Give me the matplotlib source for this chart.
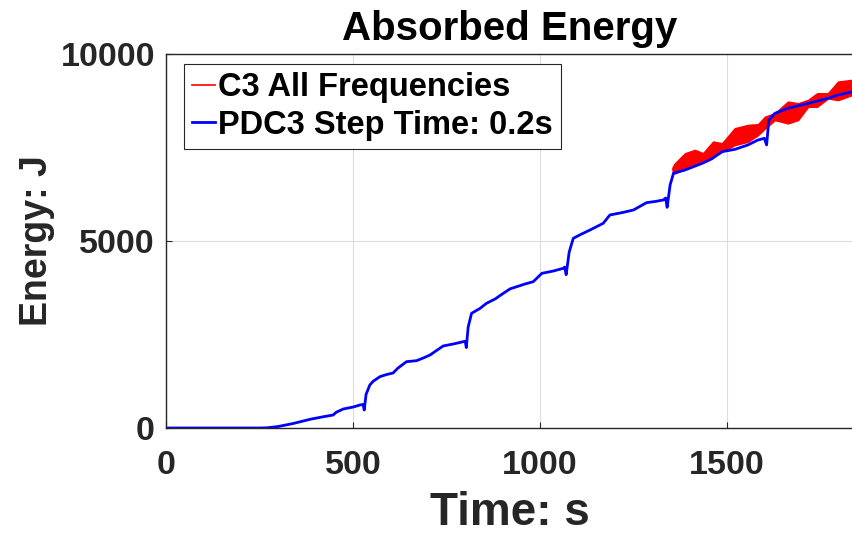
import numpy as np
import matplotlib
matplotlib.use("Agg")
import matplotlib.pyplot as plt

plt.rcParams['font.family'] = ['Liberation Sans', 'DejaVu Sans']
plt.rcParams['font.weight'] = 'bold'

# blue curve: PDC3 step time 0.2s
t_pdc = [0, 250, 270, 300, 340, 385, 420, 447, 455, 474, 500, 519, 527, 530, 535, 545,
         554, 572, 590, 607, 620, 643, 670, 690, 706, 741, 770, 795, 800, 803, 808, 817,
         840, 857, 880, 902, 920, 938, 960, 982, 1005, 1036, 1062, 1066, 1070, 1078,
         1089, 1110, 1134, 1169, 1187, 1220, 1250, 1285, 1310, 1330, 1336, 1340, 1348,
         1357, 1388, 1436, 1460, 1487, 1521, 1556, 1583, 1600, 1606, 1612, 1628, 1663,
         1717, 1770, 1797, 1837]
e_pdc = [0, 0, 5, 40, 120, 232, 300, 347, 420, 508, 560, 615, 630, 480, 900, 1150,
         1250, 1372, 1430, 1470, 1600, 1773, 1800, 1880, 1952, 2193, 2250, 2308, 2320, 2150, 2700, 3066,
         3200, 3334, 3450, 3601, 3720, 3779, 3850, 3912, 4135, 4198, 4270, 4300, 4100, 4700,
         5072, 5180, 5295, 5473, 5696, 5760, 5829, 6025, 6060, 6097, 6150, 5900, 6500,
         6811, 6899, 7086, 7200, 7390, 7450, 7568, 7701, 7746, 7568, 8236, 8413, 8548,
         8680, 8814, 8904, 8993]

# red band: C3 all frequencies, lower / upper envelope of the oscillation
t_c3 = [1355, 1361, 1388, 1414, 1436, 1463, 1487, 1521, 1556, 1583, 1602, 1628,
        1663, 1690, 1717, 1741, 1770, 1797, 1834]
c3_low = [6850, 6811, 6944, 7033, 7166, 7255, 7390, 7568, 7657, 7835, 8013, 8236,
          8147, 8236, 8592, 8592, 8814, 8770, 8904]
c3_high = [6980, 7077, 7345, 7434, 7345, 7657, 7612, 8013, 8102, 8120, 8324, 8413,
           8725, 8680, 8770, 8948, 8948, 9260, 9306]

x_ticks = [0, 500, 1000, 1500]
y_ticks = [0, 5000, 10000]

fig = plt.figure(figsize=(8.53, 5.35), dpi=100)
ax = fig.add_axes([166 / 853, 107 / 535, 687 / 853, 374 / 535])

c3_mid = (np.array(c3_low) + np.array(c3_high)) / 2
ax.fill_between(t_c3, c3_low, c3_high, color='#ff0000', lw=1.2, edgecolor='#ff0000')
ax.plot(t_c3, c3_mid, color='#ff0000', lw=1.2, label='C3 All Frequencies')
ax.plot(t_pdc, e_pdc, color='#0000ff', lw=2.0, label='PDC3 Step Time: 0.2s')

ax.set_xlim(0, 1837)
ax.set_ylim(0, 10000)
ax.set_xticks(x_ticks)
ax.set_yticks(y_ticks)
ax.tick_params(direction='in', length=4, labelsize=24.5, colors='#262626', pad=8)
ax.tick_params(axis='x', pad=16)
ax.grid(True, color='#dcdcdc', lw=0.8)
ax.set_axisbelow(True)
for s in ['left', 'bottom', 'top']:
    ax.spines[s].set_color('#262626')
    ax.spines[s].set_linewidth(1.0)
ax.spines['right'].set_visible(False)

ax.set_title('Absorbed Energy', fontsize=29, fontweight='bold', pad=10)
ax.set_xlabel('Time: s', fontsize=33, fontweight='bold', color='#262626', labelpad=7)
ax.set_ylabel('Energy: J', fontsize=27, fontweight='bold', color='#262626')

leg = ax.legend(loc='upper left', bbox_to_anchor=(0.026, 0.973), borderaxespad=0,
                fontsize=23.5, handlelength=0.7, handletextpad=0.1, borderpad=0.25,
                labelspacing=0.2, fancybox=False, framealpha=1, edgecolor='#262626')
leg.get_frame().set_linewidth(0.8)

fig.savefig('out.png', dpi=100)
